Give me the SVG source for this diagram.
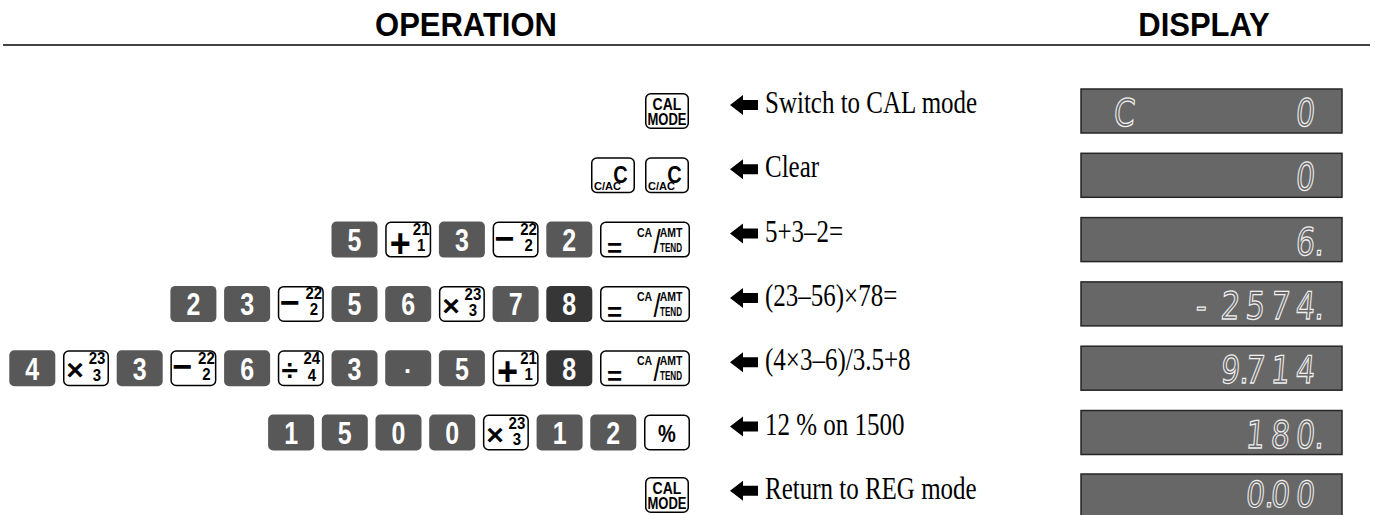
<svg xmlns="http://www.w3.org/2000/svg" xmlns:xlink="http://www.w3.org/1999/xlink" width="1378" height="515" viewBox="0 0 1378 515">
<style>
.hd{font-family:"Liberation Sans",Arial,sans-serif;font-weight:bold;font-size:31px;fill:#000;text-anchor:middle}
.lbl{font-family:"Liberation Serif","Times New Roman",serif;font-size:25px;fill:#000}
.ko{fill:#fff;stroke:#000;stroke-width:1.5}
.kn{fill:#585858}
.kd{fill:#363636}
.nt{font-family:"Liberation Sans",Arial,sans-serif;font-weight:bold;font-size:25px;fill:#fff;text-anchor:middle}
.kt{font-family:"Liberation Sans",Arial,sans-serif;font-weight:bold;fill:#000;text-anchor:middle}
.kt.thin{font-weight:normal}
.disp{fill:#676767;stroke:#262626;stroke-width:1.5}
.seg{font-family:"DejaVu Sans",sans-serif;font-size:30px;fill:none;stroke:#f0f0f0;stroke-width:1}
</style>
<defs>
<polygon id="arrow" points="0,0 13,-10 13,-5 28,-5 28,5 13,5 13,10" fill="#000"/>
<rect id="kNum" class="kn" width="46" height="36" rx="5"/>
<rect id="kNumD" class="kd" width="46" height="36" rx="5"/>
<g id="kPlus">
<rect class="ko" x="0.75" y="0.75" width="44.5" height="34.5" rx="5"/>
<text class="kt" font-size="36" transform="translate(15,35) scale(1,1.12)">+</text>
<text class="kt" font-size="15" transform="translate(36,13.5) scale(1,1.05)">21</text>
<text class="kt" font-size="15" transform="translate(36,29.5) scale(1,1.05)">1</text>
</g>
<g id="kMinus">
<rect class="ko" x="0.75" y="0.75" width="44.5" height="34.5" rx="5"/>
<text class="kt" font-size="34" transform="translate(12,28)">−</text>
<text class="kt" font-size="15" transform="translate(36,13.5) scale(1,1.05)">22</text>
<text class="kt" font-size="15" transform="translate(36,29.5) scale(1,1.05)">2</text>
</g>
<g id="kTimes">
<rect class="ko" x="0.75" y="0.75" width="44.5" height="34.5" rx="5"/>
<text class="kt" font-size="30" transform="translate(12,30)">×</text>
<text class="kt" font-size="15" transform="translate(34,14) scale(1,1.05)">23</text>
<text class="kt" font-size="15" transform="translate(34,30.5) scale(1,1.05)">3</text>
</g>
<g id="kDiv">
<rect class="ko" x="0.75" y="0.75" width="44.5" height="34.5" rx="5"/>
<text class="kt" font-size="30" transform="translate(12,30)">÷</text>
<text class="kt" font-size="15" transform="translate(34,14) scale(1,1.05)">24</text>
<text class="kt" font-size="15" transform="translate(34,30.5) scale(1,1.05)">4</text>
</g>
<g id="kEq">
<rect class="ko" x="0.75" y="0.75" width="88.5" height="34.5" rx="5"/>
<text class="kt" font-size="26" transform="translate(14.5,35)">=</text>
<text class="kt" font-size="10.5" transform="translate(44.5,15) scale(1,1.3)">CA</text>
<text class="kt thin" font-size="26" transform="translate(57,31) scale(1,1.25)">/</text>
<text class="kt" font-size="10.5" transform="translate(71,15) scale(1,1.3)">AMT</text>
<text class="kt" font-size="10.5" textLength="22" lengthAdjust="spacingAndGlyphs" transform="translate(60,30) scale(1,1.3)" style="text-anchor:start">TEND</text>
</g>
<g id="kPct">
<rect class="ko" x="0.75" y="0.75" width="44.5" height="34.5" rx="5"/>
<text class="kt" font-size="20" transform="translate(23,27) scale(1,1.15)">%</text>
</g>
<g id="kCal">
<rect class="ko" x="0.75" y="0.75" width="42.5" height="34.5" rx="5"/>
<text class="kt" font-size="14" transform="translate(22,17) scale(1,1.15)">CAL</text>
<text class="kt" font-size="14" textLength="39" lengthAdjust="spacingAndGlyphs" transform="translate(2.5,32) scale(1,1.15)" style="text-anchor:start">MODE</text>
</g>
<g id="kClr">
<rect class="ko" x="0.75" y="0.75" width="42.5" height="34.5" rx="5"/>
<text class="kt" font-size="20" transform="translate(29.5,26) scale(1,1.2)">C</text>
<text class="kt" font-size="9" textLength="27" lengthAdjust="spacingAndGlyphs" transform="translate(3,33) scale(1,1.15)" style="text-anchor:start">C/AC</text>
</g>
</defs>

<g id="header">
<text class="hd" transform="translate(466,36) scale(1,1.05)">OPERATION</text>
<text class="hd" transform="translate(1204,36) scale(1,1.05)">DISPLAY</text>
<line x1="3" y1="45" x2="1370" y2="45" stroke="#444" stroke-width="2"/>
</g>

<g id="connectors">
<use xlink:href="#arrow" x="730" y="105"/>
<use xlink:href="#arrow" x="730" y="169.3"/>
<use xlink:href="#arrow" x="730" y="233.6"/>
<use xlink:href="#arrow" x="730" y="297.9"/>
<use xlink:href="#arrow" x="730" y="362.2"/>
<use xlink:href="#arrow" x="730" y="426.5"/>
<use xlink:href="#arrow" x="730" y="490.8"/>
</g>

<g id="labels">
<text class="lbl" transform="translate(765,113) scale(1,1.26)">Switch to CAL mode</text>
<text class="lbl" transform="translate(765,177.3) scale(1,1.26)">Clear</text>
<text class="lbl" transform="translate(765,241.6) scale(1,1.26)">5+3–2=</text>
<text class="lbl" transform="translate(765,305.9) scale(1,1.26)">(23–56)×78=</text>
<text class="lbl" transform="translate(765,370.2) scale(1,1.26)">(4×3–6)/3.5+8</text>
<text class="lbl" transform="translate(765,434.5) scale(1,1.26)">12 % on 1500</text>
<text class="lbl" transform="translate(765,498.8) scale(1,1.26)">Return to REG mode</text>
</g>

<g id="row1">
<use xlink:href="#kCal" x="645" y="93"/>
</g>

<g id="row2">
<use xlink:href="#kClr" x="591" y="157.3"/>
<use xlink:href="#kClr" x="645" y="157.3"/>
</g>

<g id="row3" transform="translate(0,221.6)">
<use xlink:href="#kNum" x="331.5"/><text class="nt" transform="translate(354.5,29.5) scale(1,1.26)">5</text>
<use xlink:href="#kPlus" x="385.2"/>
<use xlink:href="#kNum" x="438.9"/><text class="nt" transform="translate(461.9,29.5) scale(1,1.26)">3</text>
<use xlink:href="#kMinus" x="492.6"/>
<use xlink:href="#kNum" x="546.3"/><text class="nt" transform="translate(569.3,29.5) scale(1,1.26)">2</text>
<use xlink:href="#kEq" x="600"/>
</g>

<g id="row4" transform="translate(0,285.9)">
<use xlink:href="#kNum" x="170.4"/><text class="nt" transform="translate(193.4,29.5) scale(1,1.26)">2</text>
<use xlink:href="#kNum" x="224.1"/><text class="nt" transform="translate(247.1,29.5) scale(1,1.26)">3</text>
<use xlink:href="#kMinus" x="277.8"/>
<use xlink:href="#kNum" x="331.5"/><text class="nt" transform="translate(354.5,29.5) scale(1,1.26)">5</text>
<use xlink:href="#kNum" x="385.2"/><text class="nt" transform="translate(408.2,29.5) scale(1,1.26)">6</text>
<use xlink:href="#kTimes" x="438.9"/>
<use xlink:href="#kNum" x="492.6"/><text class="nt" transform="translate(515.6,29.5) scale(1,1.26)">7</text>
<use xlink:href="#kNumD" x="546.3"/><text class="nt" transform="translate(569.3,29.5) scale(1,1.26)">8</text>
<use xlink:href="#kEq" x="600"/>
</g>

<g id="row5" transform="translate(0,350.2)">
<use xlink:href="#kNum" x="9.3"/><text class="nt" transform="translate(32.3,29.5) scale(1,1.26)">4</text>
<use xlink:href="#kTimes" x="63"/>
<use xlink:href="#kNum" x="116.7"/><text class="nt" transform="translate(139.7,29.5) scale(1,1.26)">3</text>
<use xlink:href="#kMinus" x="170.4"/>
<use xlink:href="#kNum" x="224.1"/><text class="nt" transform="translate(247.1,29.5) scale(1,1.26)">6</text>
<use xlink:href="#kDiv" x="277.8"/>
<use xlink:href="#kNum" x="331.5"/><text class="nt" transform="translate(354.5,29.5) scale(1,1.26)">3</text>
<use xlink:href="#kNum" x="385.2"/><text class="nt" font-size="40" transform="translate(408.2,30)">·</text>
<use xlink:href="#kNum" x="438.9"/><text class="nt" transform="translate(461.9,29.5) scale(1,1.26)">5</text>
<use xlink:href="#kPlus" x="492.6"/>
<use xlink:href="#kNumD" x="546.3"/><text class="nt" transform="translate(569.3,29.5) scale(1,1.26)">8</text>
<use xlink:href="#kEq" x="600"/>
</g>

<g id="row6" transform="translate(0,414.5)">
<use xlink:href="#kNum" x="268.1"/><text class="nt" transform="translate(291.1,29.5) scale(1,1.26)">1</text>
<use xlink:href="#kNum" x="321.8"/><text class="nt" transform="translate(344.8,29.5) scale(1,1.26)">5</text>
<use xlink:href="#kNum" x="375.5"/><text class="nt" transform="translate(398.5,29.5) scale(1,1.26)">0</text>
<use xlink:href="#kNum" x="429.2"/><text class="nt" transform="translate(452.2,29.5) scale(1,1.26)">0</text>
<use xlink:href="#kTimes" x="482.9"/>
<use xlink:href="#kNum" x="536.6"/><text class="nt" transform="translate(559.6,29.5) scale(1,1.26)">1</text>
<use xlink:href="#kNum" x="590.3"/><text class="nt" transform="translate(613.3,29.5) scale(1,1.26)">2</text>
<use xlink:href="#kPct" x="644"/>
</g>

<g id="row7">
<use xlink:href="#kCal" x="645" y="477"/>
</g>

<g id="displays">
<rect class="disp" x="1081" y="89" width="261" height="44"/>
<rect class="disp" x="1081" y="153.3" width="261" height="44"/>
<rect class="disp" x="1081" y="217.6" width="261" height="44"/>
<rect class="disp" x="1081" y="281.9" width="261" height="44"/>
<rect class="disp" x="1081" y="346.2" width="261" height="44"/>
<rect class="disp" x="1081" y="410.5" width="261" height="44"/>
<rect class="disp" x="1081" y="474" width="261" height="42"/>
<text class="seg" transform="translate(0,126) scale(1,1.26) skewX(-6)" x="1113 1200 1295">C 0</text>
<text class="seg" transform="translate(0,190.3) scale(1,1.26) skewX(-6)" x="1295">0</text>
<text class="seg" transform="translate(0,254.6) scale(1,1.26) skewX(-6)" x="1295 1314">6.</text>
<text class="seg" transform="translate(0,318.9) scale(1,1.26) skewX(-6)" x="1195 1220 1245 1270 1295 1314">-2574.</text>
<text class="seg" transform="translate(0,383.2) scale(1,1.26) skewX(-6)" x="1220 1239 1245 1270 1295">9.714</text>
<text class="seg" transform="translate(0,447.5) scale(1,1.26) skewX(-6)" x="1245 1270 1295 1314">180.</text>
<text class="seg" transform="translate(0,507) scale(1,1.2) skewX(-6)" x="1245 1264 1270 1295">0.00</text>
</g>
</svg>
